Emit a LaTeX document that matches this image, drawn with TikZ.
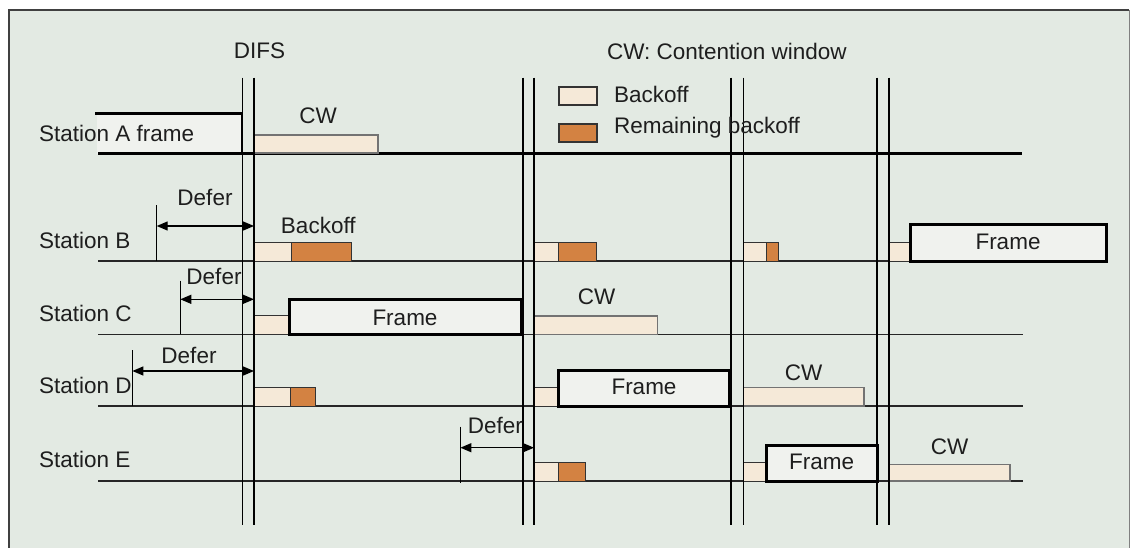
\documentclass[tikz,border=0pt]{standalone}
\usepackage{fontspec}
\setmainfont{Liberation Sans}
\usetikzlibrary{arrows.meta}
\definecolor{bgc}{RGB}{227,234,227}
\definecolor{framefill}{RGB}{240,242,238}
\definecolor{beige}{RGB}{245,233,216}
\definecolor{orng}{RGB}{211,130,66}
\definecolor{txt}{RGB}{30,30,30}
\tikzset{
  lbl/.style={font=\fontsize{22.5}{27}\selectfont, text=txt, inner sep=0pt, outer sep=0pt},
  bk/.style={draw=black!80, line width=1pt, fill=beige},
  rem/.style={draw=black!80, line width=1pt, fill=orng},
  cwbox/.style={draw=black!55, line width=1.2pt, fill=beige},
  framebox/.style={draw=black, line width=3pt, fill=framefill},
  baseline/.style={draw=black!85, line width=1.3pt},
  difsline/.style={draw=black, line width=1.5pt},
  ticklen/.style={draw=black, line width=1.3pt},
  deferarrow/.style={draw=black, line width=1.3pt, {Triangle[length=11pt,width=9pt]}-{Triangle[length=11pt,width=9pt]}}
}
\begin{document}
\begin{tikzpicture}[x=1pt,y=-1pt]
\useasboundingbox (0,0) rectangle (1130,547);
% background panel
\fill[bgc] (9,10) rectangle (1129,548);
\draw[black!75, line width=1.8pt] (9,548) -- (9,10) -- (1129,10);
\draw[black!50, line width=1pt] (1129,10) -- (1129,548);

% ---------- Station A ----------
\fill[framefill] (97,113.3) rectangle (242,153.5);
\draw[line width=3pt] (98,153.5) -- (1022,153.5);
\draw[line width=2.7pt] (95,113.3) -- (242,113.3) -- (242,153.5);
\draw[cwbox] (254,135) rectangle (378,153);

% ---------- baselines ----------
\draw[baseline] (98,261) -- (1022,261);
\draw[baseline] (98,334.3) -- (1022.7,334.3);
\draw[baseline] (98,406) -- (1022.7,406);
\draw[baseline] (98,481) -- (1022.7,481);

% ---------- Station B ----------
\draw[bk] (254,242.7) rectangle (291,261);
\draw[rem] (291,242.7) rectangle (351.7,261);
\draw[bk] (534,242.7) rectangle (558.3,261);
\draw[rem] (558.3,242.7) rectangle (596.5,261);
\draw[bk] (743.5,242.7) rectangle (766,261);
\draw[rem] (766,242.7) rectangle (778.6,261);
\draw[bk] (889,242.7) rectangle (910,261);
\draw[framebox] (910,224.3) rectangle (1106,261);

% ---------- Station C ----------
\draw[bk] (254,315.7) rectangle (289,334.3);
\draw[framebox] (289,299) rectangle (521,334.3);
\draw[cwbox] (534,316) rectangle (657.6,334.3);

% ---------- Station D ----------
\draw[bk] (254,387.7) rectangle (290,406);
\draw[rem] (290,387.7) rectangle (315,406);
\draw[bk] (534,387.7) rectangle (558,406);
\draw[framebox] (558,370.7) rectangle (729.5,406);
\draw[cwbox] (743.5,387.7) rectangle (864,406);

% ---------- Station E ----------
\draw[bk] (534,462.7) rectangle (558.3,481);
\draw[rem] (558.3,462.7) rectangle (585.6,481);
\draw[bk] (743.5,462.7) rectangle (766,481);
\draw[framebox] (766,445) rectangle (877.5,481);
\draw[cwbox] (889,464.3) rectangle (1010,481);

% ---------- DIFS line pairs ----------
\foreach \xx in {242.6,253.8,522.8,533.8,730.8,743.3,876.8,889}
  \draw[difsline] (\xx,77.5) -- (\xx,525);

% ---------- Defer markers ----------
\coordinate (tBtop) at (156.7,205); \coordinate (tBbot) at (156.7,261);
\coordinate (aBl) at (156.7,226); \coordinate (aBr) at (254,226);
\draw[ticklen] (tBtop) -- (tBbot);
\draw[deferarrow] (aBl) -- (aBr);

\coordinate (tCtop) at (180.3,280.7); \coordinate (tCbot) at (180.3,334.3);
\coordinate (aCl) at (180.3,299.3); \coordinate (aCr) at (254,299.3);
\draw[ticklen] (tCtop) -- (tCbot);
\draw[deferarrow] (aCl) -- (aCr);

\coordinate (tDtop) at (132.4,350); \coordinate (tDbot) at (132.4,406);
\coordinate (aDl) at (132.4,371); \coordinate (aDr) at (254,371);
\draw[ticklen] (tDtop) -- (tDbot);
\draw[deferarrow] (aDl) -- (aDr);

\coordinate (tEtop) at (460.4,426.7); \coordinate (tEbot) at (460.4,483);
\coordinate (aEl) at (460.4,447.7); \coordinate (aEr) at (534,447.7);
\draw[ticklen] (tEtop) -- (tEbot);
\draw[deferarrow] (aEl) -- (aEr);

% ---------- Legend ----------
\draw[bk, line width=1.3pt] (559,87) rectangle (597,105);
\draw[rem, line width=1.3pt] (559,124) rectangle (597,142);

% ---------- Texts ----------
\node[lbl, anchor=base] (difs) at (259.5,58.3) {DIFS};
\node[lbl, anchor=base west] (cwtitle) at (607,59) {CW: Contention window};
\node[lbl, anchor=base west] (legbk) at (614,102.7) {Backoff};
\node[lbl, anchor=base west] (legrem) at (614,133.3) {Remaining backoff};

\node[lbl, anchor=base west] (stA) at (39,141.7) {Station A frame};
\node[lbl, anchor=base] (cwA) at (318,123.3) {CW};

\node[lbl, anchor=base west] (stB) at (39,248.3) {Station B};
\node[lbl, anchor=base] (dfB) at (205,205.7) {Defer};
\node[lbl, anchor=base] (bkB) at (318.3,233.3) {Backoff};
\node[lbl, anchor=base] (frB) at (1008,249.3) {Frame};

\node[lbl, anchor=base west] (stC) at (39,321.7) {Station C};
\node[lbl, anchor=base] (dfC) at (214,284.3) {Defer};
\node[lbl, anchor=base] (frC) at (405,325) {Frame};
\node[lbl, anchor=base] (cwC) at (596.5,304) {CW};

\node[lbl, anchor=base west] (stD) at (39,393.3) {Station D};
\node[lbl, anchor=base] (dfD) at (189,363.3) {Defer};
\node[lbl, anchor=base] (frD) at (644,394) {Frame};
\node[lbl, anchor=base] (cwD) at (803.6,380.3) {CW};

\node[lbl, anchor=base west] (stE) at (39,467.7) {Station E};
\node[lbl, anchor=base] (dfE) at (495.4,433.3) {Defer};
\node[lbl, anchor=base] (frE) at (821.7,469.3) {Frame};
\node[lbl, anchor=base] (cwE) at (949.5,454.3) {CW};
\end{tikzpicture}
\end{document}
